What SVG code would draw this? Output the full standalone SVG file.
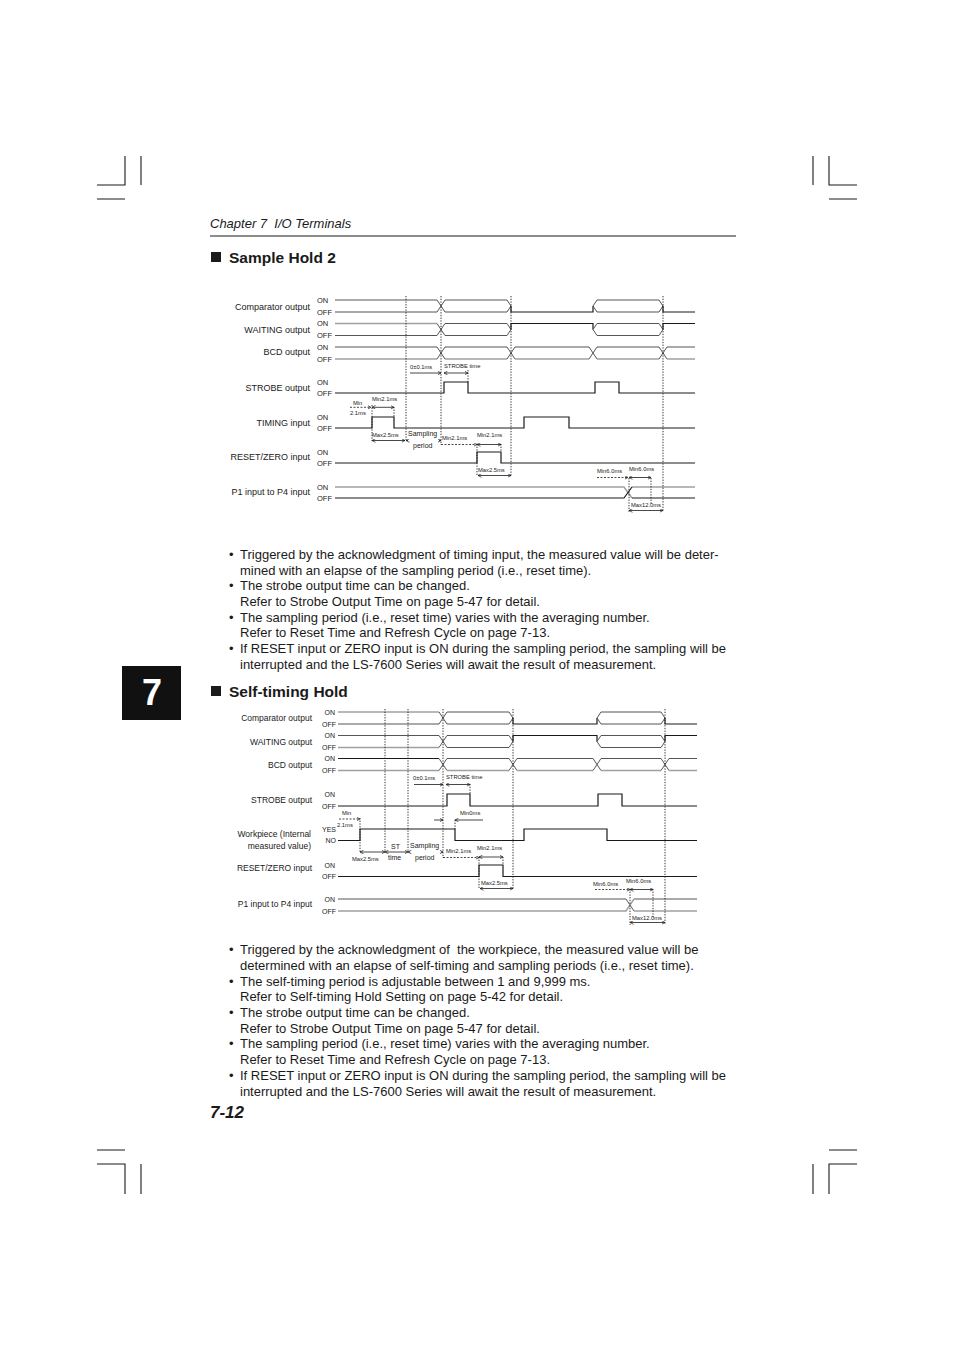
<svg xmlns="http://www.w3.org/2000/svg" width="954" height="1351" viewBox="0 0 954 1351">
<style>
text{font-family:"Liberation Sans",Arial,sans-serif;fill:#1a1a1a}
.body{font-size:13px}
.hd{font-size:15.5px;font-weight:bold}
.lab{font-size:9px;text-anchor:end}
.lab2{font-size:8.5px;text-anchor:end}
.oo{font-size:7.5px}
.oo2{font-size:7px;text-anchor:end}
.an{font-size:5.8px}
.l{stroke:#1a1a1a;stroke-width:1.2;fill:none}
.b{stroke:#555;stroke-width:1;fill:none}
.g{stroke:#a0a0a0;stroke-width:1.5;fill:none}
.k{stroke:#1a1a1a;stroke-width:1.1;fill:none}
.dot{stroke:#1a1a1a;stroke-width:0.9;stroke-dasharray:1.3 1.4;fill:none}
.dsh{stroke:#1a1a1a;stroke-width:0.8;stroke-dasharray:2 1.5;fill:none}
.dim{stroke:#1a1a1a;stroke-width:0.8;fill:none}
.ae{marker-end:url(#ah)}
.ab{marker-start:url(#ah);marker-end:url(#ah)}
</style>
<defs>
<marker id="ah" markerUnits="userSpaceOnUse" markerWidth="4" markerHeight="4" refX="3.5" refY="2" orient="auto-start-reverse"><path d="M0,0.2 L3.5,2 L0,3.8" fill="none" stroke="#1a1a1a" stroke-width="0.7"/></marker>
</defs>

<g id="crop-marks" class="k">
<path d="M125,156V185H97M141,156V185M97,199H125"/>
<path d="M813,156V185M829,156V185H857M829,199H857"/>
<path d="M97,1150H125M97,1164H125V1194M141,1164V1194"/>
<path d="M829,1150H857M857,1164H829V1194M813,1164V1194"/>
</g>

<g id="header">
<text x="210" y="228" style="font-size:13px;font-style:italic;white-space:pre">Chapter 7  I/O Terminals</text>
<line x1="210" y1="236" x2="736" y2="236" stroke="#1a1a1a" stroke-width="1"/>
</g>

<g id="title-sample-hold-2">
<rect x="211" y="252" width="10" height="10" fill="#1a1a1a"/>
<text x="229" y="263" class="hd">Sample Hold 2</text>
</g>

<g id="chapter-tab">
<rect x="122" y="666" width="59" height="54" fill="#111"/>
<text x="152" y="705" style="font-size:36px;font-weight:bold;fill:#fff;text-anchor:middle">7</text>
</g>

<!-- ===== Diagram 1 ===== -->
<g id="d1-labels">
<text x="310" y="310" class="lab">Comparator output</text>
<text x="310" y="333" class="lab">WAITING output</text>
<text x="310" y="355" class="lab">BCD output</text>
<text x="310" y="391" class="lab">STROBE output</text>
<text x="310" y="426" class="lab">TIMING input</text>
<text x="310" y="460" class="lab">RESET/ZERO input</text>
<text x="310" y="495" class="lab">P1 input to P4 input</text>
<text x="317" y="302.7" class="oo">ON</text><text x="317" y="315" class="oo">OFF</text>
<text x="317" y="326.2" class="oo">ON</text><text x="317" y="338.2" class="oo">OFF</text>
<text x="317" y="349.7" class="oo">ON</text><text x="317" y="361.7" class="oo">OFF</text>
<text x="317" y="384.7" class="oo">ON</text><text x="317" y="395.7" class="oo">OFF</text>
<text x="317" y="419.7" class="oo">ON</text><text x="317" y="430.7" class="oo">OFF</text>
<text x="317" y="454.7" class="oo">ON</text><text x="317" y="465.7" class="oo">OFF</text>
<text x="317" y="489.7" class="oo">ON</text><text x="317" y="500.7" class="oo">OFF</text>
</g>

<g id="d1-comparator">
<path class="b" d="M335,300H437L445,312H507L511,306M335,312H437L445,300H507L511,306"/>
<path class="l" d="M511,306V312H593V306"/>
<path class="b" d="M593,306L597,300H659L663,306M593,306L597,312H659L663,306"/>
<path class="l" d="M663,306V312H695"/>
</g>
<g id="d1-waiting">
<path class="g" d="M335,323.5H437"/>
<path class="b" d="M437,323.5L445,335.5H507L511,329.5M335,335.5H437L445,323.5H507L511,329.5"/>
<path class="l" d="M511,329.5V323.5H593V329.5"/>
<path class="b" d="M593,329.5L597,323.5H659L663,329.5M593,329.5L597,335.5H659L663,329.5"/>
<path class="l" d="M663,329.5V323.5H695"/>
</g>
<g id="d1-bcd">
<path class="b" d="M335,347H437L445,359M445,347H507L515,359M515,347H589L597,359M597,347H659L667,359M667,347H695"/>
<path class="g" d="M335,359H437M445,359H507M515,359H589M597,359H659M667,359H695"/>
<path class="b" d="M437,359L445,347M507,359L515,347M589,359L597,347M659,359L667,347"/>
</g>
<g id="d1-strobe"><path class="l" d="M335,393H444V382H468V393H595V382H619V393H695"/></g>
<g id="d1-timing"><path class="l" d="M335,428H372V417H394V428H524V417H569V428H695"/></g>
<g id="d1-reset"><path class="l" d="M335,463H477V452H501V463H695"/></g>
<g id="d1-p1p4">
<path class="g" d="M335,487H624L632,498M632,487H695"/>
<path class="l" d="M335,498H624L632,487M632,498H695"/>
</g>

<g id="d1-connectors">
<path class="dot" d="M406,296V440M441,296V445M511,296V476M663,296V512M372,405V441M394,407V417M468,370V382M477,444V476M501,444V452M651,478V505M629,478V512"/>
<line class="dim ae" x1="410" y1="373" x2="441" y2="373"/>
<line class="dim ab" x1="444" y1="373" x2="468" y2="373"/>
<line class="dsh ae" x1="350" y1="407.3" x2="371" y2="407.3"/>
<line class="dim ab" x1="372" y1="407.3" x2="394" y2="407.3"/>
<line class="dim ab" x1="372" y1="440.5" x2="405" y2="440.5"/>
<line class="dim" x1="406" y1="440.5" x2="408" y2="440.5" style="marker-start:url(#ah)"/>
<line class="dim ae" x1="439" y1="440.5" x2="441" y2="440.5"/>
<line class="dsh ae" x1="441" y1="444.5" x2="477" y2="444.5"/>
<line class="dim ab" x1="477" y1="444.5" x2="501" y2="444.5"/>
<line class="dim ab" x1="478" y1="475.5" x2="511" y2="475.5"/>
<line class="dsh ae" x1="597" y1="477.5" x2="628" y2="477.5"/>
<line class="dim ab" x1="629" y1="477.5" x2="651" y2="477.5"/>
<line class="dim ab" x1="629" y1="510.5" x2="663" y2="510.5"/>
</g>
<g id="d1-annotations">
<text x="410" y="368.5" class="an">0±0.1ms</text>
<text x="444" y="367.5" class="an">STROBE time</text>
<text x="353" y="404.5" class="an">Min</text>
<text x="350" y="415" class="an">2.1ms</text>
<text x="372" y="401" class="an">Min2.1ms</text>
<text x="372" y="437" class="an">Max2.5ms</text>
<text x="408" y="436" style="font-size:7px">Sampling</text>
<text x="413" y="448" style="font-size:7px">period</text>
<text x="442" y="440" class="an">Min2.1ms</text>
<text x="477" y="437" class="an">Min2.1ms</text>
<text x="478" y="472" class="an">Max2.5ms</text>
<text x="597" y="473" class="an">Min6.0ms</text>
<text x="629" y="471" class="an">Min6.0ms</text>
<text x="631" y="507" class="an">Max12.0ms</text>
</g>

<g id="bullets-1" class="body">
<text x="229" y="559" class="body">•</text>
<text x="240" y="559" class="body">Triggered by the acknowledgment of timing input, the measured value will be deter-</text>
<text x="240" y="574.5" class="body">mined with an elapse of the sampling period (i.e., reset time).</text>
<text x="229" y="590" class="body">•</text>
<text x="240" y="590" class="body">The strobe output time can be changed.</text>
<text x="240" y="606" class="body">Refer to Strobe Output Time on page 5-47 for detail.</text>
<text x="229" y="621.5" class="body">•</text>
<text x="240" y="621.5" class="body">The sampling period (i.e., reset time) varies with the averaging number.</text>
<text x="240" y="637" class="body">Refer to Reset Time and Refresh Cycle on page 7-13.</text>
<text x="229" y="653" class="body">•</text>
<text x="240" y="653" class="body">If RESET input or ZERO input is ON during the sampling period, the sampling will be</text>
<text x="240" y="668.5" class="body">interrupted and the LS-7600 Series will await the result of measurement.</text>
</g>

<g id="title-self-timing-hold">
<rect x="211" y="686" width="10" height="10" fill="#1a1a1a"/>
<text x="229" y="697" class="hd">Self-timing Hold</text>
</g>

<!-- ===== Diagram 2 ===== -->
<g id="d2-labels">
<text x="312" y="721" class="lab2">Comparator output</text>
<text x="312" y="745" class="lab2">WAITING output</text>
<text x="312" y="768" class="lab2">BCD output</text>
<text x="312" y="803" class="lab2">STROBE output</text>
<text x="311" y="837" class="lab2">Workpiece (Internal</text>
<text x="311" y="849" class="lab2">measured value)</text>
<text x="312" y="871" class="lab2">RESET/ZERO input</text>
<text x="312" y="907" class="lab2">P1 input to P4 input</text>
<text x="335" y="714.5" class="oo2">ON</text><text x="336" y="726.5" class="oo2">OFF</text>
<text x="335" y="738" class="oo2">ON</text><text x="336" y="750" class="oo2">OFF</text>
<text x="335" y="761" class="oo2">ON</text><text x="336" y="773" class="oo2">OFF</text>
<text x="335" y="796.5" class="oo2">ON</text><text x="336" y="808.5" class="oo2">OFF</text>
<text x="336" y="831.5" class="oo2">YES</text><text x="336" y="843" class="oo2">NO</text>
<text x="335" y="867.5" class="oo2">ON</text><text x="336" y="879" class="oo2">OFF</text>
<text x="335" y="901.5" class="oo2">ON</text><text x="336" y="913.5" class="oo2">OFF</text>
</g>

<g id="d2-comparator">
<path class="g" d="M338,712H439"/>
<path class="b" d="M439,712L447,724H509L513,718M338,724H439L447,712H509L513,718"/>
<path class="l" d="M513,718V724H597V718"/>
<path class="b" d="M597,718L601,712H661L665,718M597,718L601,724H661L665,718"/>
<path class="l" d="M665,718V724H697"/>
</g>
<g id="d2-waiting">
<path class="b" d="M338,735.5H439L447,747.5H509L513,741.5M447,735.5H509L513,741.5"/>
<path class="g" d="M338,747.5H439"/>
<path class="b" d="M439,747.5L447,735.5"/>
<path class="l" d="M513,741.5V735.5H597V741.5"/>
<path class="b" d="M597,741.5L601,735.5H661L665,741.5M597,741.5L601,747.5H661L665,741.5"/>
<path class="l" d="M665,741.5V735.5H697"/>
</g>
<g id="d2-bcd">
<path class="l" d="M338,758.5H439"/>
<path class="b" d="M439,758.5L447,770.5M447,758.5H509L517,770.5M517,758.5H593L601,770.5M601,758.5H661L669,770.5M669,758.5H697"/>
<path class="g" d="M338,770.5H439M447,770.5H509M517,770.5H593M601,770.5H661M669,770.5H697"/>
<path class="b" d="M439,770.5L447,758.5M509,770.5L517,758.5M593,770.5L601,758.5M661,770.5L669,758.5"/>
</g>
<g id="d2-strobe"><path class="l" d="M338,806H447V794H470V806H598V794H622V806H697"/></g>
<g id="d2-workpiece"><path class="l" d="M338,840.5H360V829H455V840.5H524V829H607V840.5H697"/></g>
<g id="d2-reset"><path class="l" d="M338,876.5H479V865H503V876.5H697"/></g>
<g id="d2-p1p4">
<path class="b" d="M338,899H626L634,911M634,899H697"/>
<path class="g" d="M338,911H626L634,899M634,911H697"/>
</g>

<g id="d2-connectors">
<path class="dot" d="M385,709V852M408,709V852M443,709V858M513,709V889M665,709V925M360,818V852M455,820V829M470,784V794M479,857V889M503,857V865M653,889V918M630,889V925"/>
<line class="dim ae" x1="414" y1="784.5" x2="443" y2="784.5"/>
<line class="dim ab" x1="446" y1="784.5" x2="470" y2="784.5"/>
<line class="dsh ae" x1="339" y1="819" x2="360" y2="819"/>
<line class="dim ae" x1="434" y1="820" x2="443" y2="820"/>
<line class="dim ae" x1="483" y1="820" x2="455" y2="820"/>
<line class="dim ab" x1="360" y1="852" x2="385" y2="852"/>
<line class="dim ab" x1="385" y1="852" x2="408" y2="852"/>
<line class="dim" x1="408" y1="852" x2="410" y2="852" style="marker-start:url(#ah)"/>
<line class="dim ae" x1="441" y1="852" x2="443" y2="852"/>
<line class="dsh ae" x1="443" y1="857.5" x2="479" y2="857.5"/>
<line class="dim ab" x1="479" y1="857" x2="503" y2="857"/>
<line class="dim ab" x1="480" y1="888.5" x2="513" y2="888.5"/>
<line class="dsh ae" x1="595" y1="889.5" x2="630" y2="889.5"/>
<line class="dim ab" x1="630" y1="889.5" x2="653" y2="889.5"/>
<line class="dim ab" x1="630" y1="922.5" x2="665" y2="922.5"/>
</g>
<g id="d2-annotations">
<text x="413" y="780" class="an">0±0.1ms</text>
<text x="446" y="779" class="an">STROBE time</text>
<text x="342" y="815" class="an">Min</text>
<text x="337" y="827" class="an">2.1ms</text>
<text x="460" y="815" class="an">Min0ms</text>
<text x="352" y="861" class="an">Max2.5ms</text>
<text x="391" y="849" style="font-size:7px">ST</text>
<text x="388" y="860" style="font-size:7px">time</text>
<text x="410" y="848" style="font-size:7px">Sampling</text>
<text x="415" y="860" style="font-size:7px">period</text>
<text x="446" y="853" class="an">Min2.1ms</text>
<text x="477" y="850" class="an">Min2.1ms</text>
<text x="481" y="885" class="an">Max2.5ms</text>
<text x="593" y="886" class="an">Min6.0ms</text>
<text x="626" y="883" class="an">Min6.0ms</text>
<text x="632" y="920" class="an">Max12.0ms</text>
</g>

<g id="bullets-2">
<text x="229" y="954" class="body">•</text>
<text x="240" y="954" class="body" style="white-space:pre">Triggered by the acknowledgment of  the workpiece, the measured value will be</text>
<text x="240" y="970" class="body">determined with an elapse of self-timing and sampling periods (i.e., reset time).</text>
<text x="229" y="985.5" class="body">•</text>
<text x="240" y="985.5" class="body">The self-timing period is adjustable between 1 and 9,999 ms.</text>
<text x="240" y="1001" class="body">Refer to Self-timing Hold Setting on page 5-42 for detail.</text>
<text x="229" y="1017" class="body">•</text>
<text x="240" y="1017" class="body">The strobe output time can be changed.</text>
<text x="240" y="1033" class="body">Refer to Strobe Output Time on page 5-47 for detail.</text>
<text x="229" y="1048" class="body">•</text>
<text x="240" y="1048" class="body">The sampling period (i.e., reset time) varies with the averaging number.</text>
<text x="240" y="1064" class="body">Refer to Reset Time and Refresh Cycle on page 7-13.</text>
<text x="229" y="1080" class="body">•</text>
<text x="240" y="1080" class="body">If RESET input or ZERO input is ON during the sampling period, the sampling will be</text>
<text x="240" y="1095.5" class="body">interrupted and the LS-7600 Series will await the result of measurement.</text>
</g>

<g id="page-number">
<text x="210" y="1118" style="font-size:17px;font-weight:bold;font-style:italic">7-12</text>
</g>
</svg>
